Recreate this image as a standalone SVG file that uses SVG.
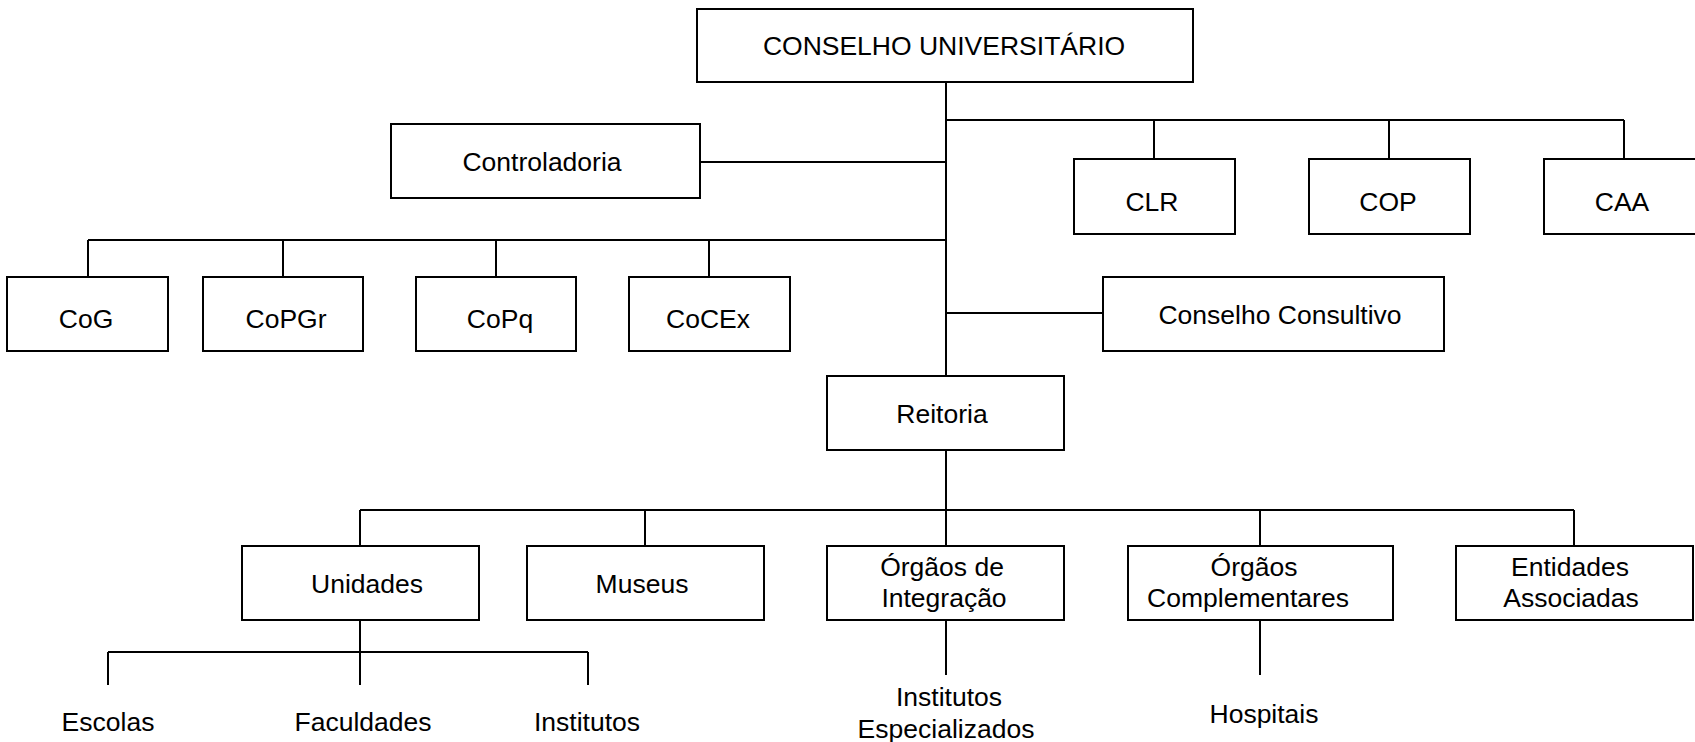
<svg xmlns="http://www.w3.org/2000/svg" width="1695" height="742" viewBox="0 0 1695 742">
<style>
rect.box{fill:#fff;stroke:#000;stroke-width:2}
.c line{stroke:#000;stroke-width:2}
text{font-family:"Liberation Sans",Arial,sans-serif;font-size:26.5px;fill:#000;text-anchor:middle}
</style>
<rect width="1695" height="742" fill="#fff"/>
<g class="c" id="connectors">
<line x1="946" y1="82" x2="946" y2="376"/>
<line x1="946" y1="120" x2="1624" y2="120"/>
<line x1="1154" y1="120" x2="1154" y2="159"/>
<line x1="1389" y1="120" x2="1389" y2="159"/>
<line x1="1624" y1="120" x2="1624" y2="159"/>
<line x1="700" y1="162" x2="946" y2="162"/>
<line x1="88" y1="240" x2="946" y2="240"/>
<line x1="88" y1="240" x2="88" y2="277"/>
<line x1="283" y1="240" x2="283" y2="277"/>
<line x1="496" y1="240" x2="496" y2="277"/>
<line x1="709" y1="240" x2="709" y2="277"/>
<line x1="946" y1="313" x2="1103" y2="313"/>
<line x1="946" y1="450" x2="946" y2="546"/>
<line x1="360" y1="510" x2="1574" y2="510"/>
<line x1="360" y1="510" x2="360" y2="546"/>
<line x1="645" y1="510" x2="645" y2="546"/>
<line x1="1260" y1="510" x2="1260" y2="546"/>
<line x1="1574" y1="510" x2="1574" y2="546"/>
<line x1="360" y1="620" x2="360" y2="685"/>
<line x1="108" y1="652" x2="588" y2="652"/>
<line x1="108" y1="652" x2="108" y2="685"/>
<line x1="588" y1="652" x2="588" y2="685"/>
<line x1="946" y1="620" x2="946" y2="675"/>
<line x1="1260" y1="620" x2="1260" y2="675"/>
</g>
<g id="conselho-universitario"><rect class="box" x="697" y="9" width="496" height="73"/><text x="944" y="55">CONSELHO UNIVERSITÁRIO</text></g>
<g id="controladoria"><rect class="box" x="391" y="124" width="309" height="74"/><text x="542" y="171">Controladoria</text></g>
<g id="clr"><rect class="box" x="1074" y="159" width="161" height="75"/><text x="1152" y="211">CLR</text></g>
<g id="cop"><rect class="box" x="1309" y="159" width="161" height="75"/><text x="1388" y="211">COP</text></g>
<g id="caa"><rect class="box" x="1544" y="159" width="161" height="75"/><text x="1622" y="211">CAA</text></g>
<g id="cog"><rect class="box" x="7" y="277" width="161" height="74"/><text x="86" y="328">CoG</text></g>
<g id="copgr"><rect class="box" x="203" y="277" width="160" height="74"/><text x="286" y="328">CoPGr</text></g>
<g id="copq"><rect class="box" x="416" y="277" width="160" height="74"/><text x="500" y="328">CoPq</text></g>
<g id="cocex"><rect class="box" x="629" y="277" width="161" height="74"/><text x="708" y="328">CoCEx</text></g>
<g id="conselho-consultivo"><rect class="box" x="1103" y="277" width="341" height="74"/><text x="1280" y="324">Conselho Consultivo</text></g>
<g id="reitoria"><rect class="box" x="827" y="376" width="237" height="74"/><text x="942" y="423">Reitoria</text></g>
<g id="unidades"><rect class="box" x="242" y="546" width="237" height="74"/><text x="367" y="593">Unidades</text></g>
<g id="museus"><rect class="box" x="527" y="546" width="237" height="74"/><text x="642" y="593">Museus</text></g>
<g id="orgaos-integracao"><rect class="box" x="827" y="546" width="237" height="74"/><text x="942" y="576">Órgãos de</text><text x="944" y="607">Integração</text></g>
<g id="orgaos-complementares"><rect class="box" x="1128" y="546" width="265" height="74"/><text x="1254" y="576">Órgãos</text><text x="1248" y="607">Complementares</text></g>
<g id="entidades-associadas"><rect class="box" x="1456" y="546" width="237" height="74"/><text x="1570" y="576">Entidades</text><text x="1571" y="607">Associadas</text></g>
<g id="escolas"><text x="108" y="731">Escolas</text></g>
<g id="faculdades"><text x="363" y="731">Faculdades</text></g>
<g id="institutos"><text x="587" y="731">Institutos</text></g>
<g id="institutos-especializados"><text x="949" y="706">Institutos</text><text x="946" y="738">Especializados</text></g>
<g id="hospitais"><text x="1264" y="723">Hospitais</text></g>
</svg>
